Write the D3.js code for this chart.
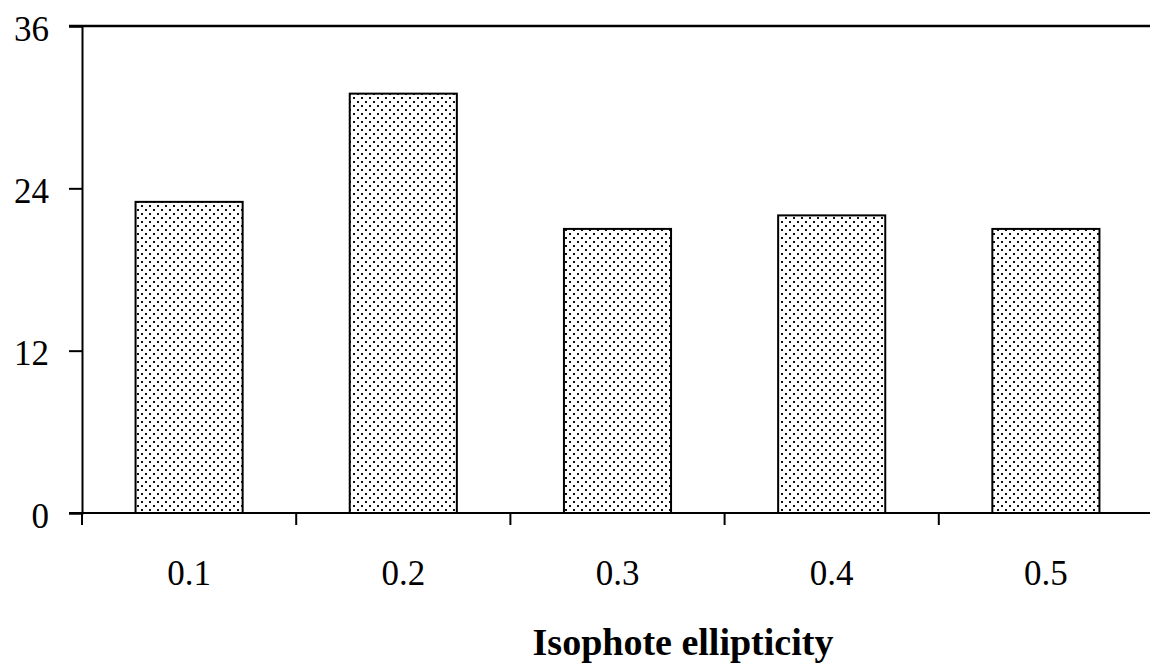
<!DOCTYPE html>
<html><head><meta charset="utf-8">
<script src="https://cdn.jsdelivr.net/npm/d3@7"></script>
<style>body{margin:0;background:#fff}svg{display:block}</style>
</head><body>
<script>
const categories = ["0.1","0.2","0.3","0.4","0.5"];
const values = [23, 31, 21, 22, 21];
const yTicks = [0, 12, 24, 36];
const xTitle = "Isophote ellipticity";

const W = 1150, H = 666;
const mLeft = 82, mRight = 1153, mTop = 26, mBottom = 513;
const svg = d3.select("body").append("svg").attr("width", W).attr("height", H);

const defs = svg.append("defs");
const pat = defs.append("pattern").attr("id","dots").attr("patternUnits","userSpaceOnUse")
  .attr("width",8).attr("height",8);
pat.append("rect").attr("width",8).attr("height",8).attr("fill","#fff");
pat.append("rect").attr("x",1).attr("y",1).attr("width",2).attr("height",2).attr("fill","#111");
pat.append("rect").attr("x",5).attr("y",5).attr("width",2).attr("height",2).attr("fill","#111");

const x = d3.scaleBand().domain(categories).range([mLeft, mRight]).paddingInner(0.5).paddingOuter(0.25);
const y = d3.scaleLinear().domain([0, 36]).range([mBottom, mTop]);

// bars
svg.append("g").selectAll("rect").data(values).join("rect")
  .attr("x", (d,i) => x(categories[i]))
  .attr("y", d => y(d))
  .attr("width", x.bandwidth())
  .attr("height", d => y(0) - y(d))
  .attr("fill", "url(#dots)")
  .attr("stroke", "#000").attr("stroke-width", 2);

// top line at 36
svg.append("line").attr("x1", 69).attr("x2", W).attr("y1", y(36)).attr("y2", y(36))
  .attr("stroke","#000").attr("stroke-width",2.5);

// y axis
const yAxis = d3.axisLeft(y).tickValues(yTicks).tickSize(13).tickPadding(20).tickFormat(d3.format("d"));
const gy = svg.append("g").attr("transform", `translate(${mLeft},0)`).call(yAxis);
gy.select(".domain").attr("stroke","#000").attr("stroke-width",2);
gy.selectAll(".tick line").attr("stroke","#000").attr("stroke-width",2);
gy.selectAll(".tick text").attr("font-family","'Liberation Serif', serif").attr("font-size",35)
  .attr("fill","#000").attr("dy","0.4em");

// x axis with ticks at band boundaries
const step = x.step();
const bounds = d3.range(categories.length).map(i => mLeft + i * step);
svg.append("line").attr("x1", 69).attr("x2", W).attr("y1", mBottom).attr("y2", mBottom)
  .attr("stroke","#000").attr("stroke-width",2);
svg.append("g").selectAll("line").data(bounds).join("line")
  .attr("x1", d => d).attr("x2", d => d).attr("y1", mBottom).attr("y2", mBottom + 12)
  .attr("stroke","#000").attr("stroke-width",2);
svg.append("g").selectAll("text").data(categories).join("text")
  .attr("x", d => x(d) + x.bandwidth()/2).attr("y", 585)
  .attr("text-anchor","middle").attr("font-family","'Liberation Serif', serif").attr("font-size",35)
  .attr("fill","#000").text(d => d);

svg.append("text").attr("x", 683).attr("y", 655).attr("text-anchor","middle")
  .attr("font-family","'Liberation Serif', serif").attr("font-weight","bold").attr("font-size",38)
  .attr("fill","#000").text(xTitle);
</script>
</body></html>
